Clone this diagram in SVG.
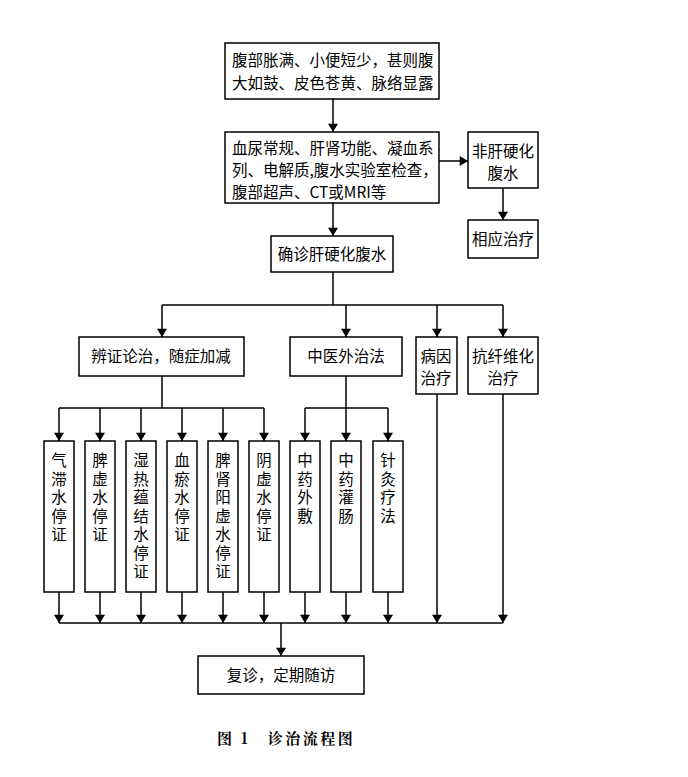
<svg xmlns="http://www.w3.org/2000/svg" width="688" height="777" viewBox="0 0 688 777">
<style>
rect{fill:#fff;stroke:#000;stroke-width:1.5}
text{font-family:"Noto Sans CJK SC","Liberation Sans",sans-serif;font-size:15.5px;fill:#000}
.c{text-anchor:middle}
.l{stroke:#000;stroke-width:1.5;fill:none}
</style>
<defs><marker id="a" viewBox="0 0 10 12" refX="10" refY="6" markerWidth="12" markerHeight="10" markerUnits="userSpaceOnUse" orient="auto"><path d="M0,0L10,6L0,12z" fill="#000"/></marker></defs>
<rect width="688" height="777" style="fill:#fff;stroke:none"/>
<g id="connectors" class="l">
<path d="M333,272V305"/>
<path d="M162,305H503"/>
<path d="M162,376V408"/>
<path d="M59,408H264"/>
<path d="M305,408H388"/>
<path d="M59,623H503"/>
<g marker-end="url(#a)">
<path d="M333,99V132"/><path d="M439,161H468"/><path d="M503,188V220"/><path d="M333,203V236"/>
<path d="M162,305V337"/><path d="M346,305V337"/><path d="M437,305V337"/><path d="M503,305V337"/>
<path d="M59,408V441"/><path d="M100,408V441"/><path d="M141,408V441"/><path d="M182,408V441"/><path d="M223,408V441"/><path d="M264,408V441"/>
<path d="M346,376V441"/><path d="M305,408V441"/><path d="M388,408V441"/>
<path d="M59,592V623"/><path d="M100,592V623"/><path d="M141,592V623"/><path d="M182,592V623"/><path d="M223,592V623"/><path d="M264,592V623"/><path d="M305,592V623"/><path d="M346,592V623"/><path d="M388,592V623"/><path d="M437,394V623"/><path d="M503,394V623"/>
<path d="M281,623V656"/></g>
</g>
<g id="n1"><rect x="225" y="43" width="214" height="56"/><text x="232" y="66">腹部胀满、小便短少，甚则腹</text><text x="232" y="89">大如鼓、皮色苍黄、脉络显露</text></g>
<g id="n2"><rect x="225" y="132" width="214" height="71"/><text x="232" y="154">血尿常规、肝肾功能、凝血系</text><text x="232" y="176">列、电解质,腹水实验室检查，</text><text x="232" y="198">腹部超声、CT或MRI等</text></g>
<g id="n3"><rect x="468" y="132" width="70" height="56"/><text class="c" x="503" y="157">非肝硬化</text><text class="c" x="503" y="179">腹水</text></g>
<g id="n4"><rect x="468" y="220" width="70" height="38"/><text class="c" x="503" y="245">相应治疗</text></g>
<g id="n5"><rect x="271" y="236" width="122" height="36"/><text class="c" x="332" y="260">确诊肝硬化腹水</text></g>
<g id="n6"><rect x="79" y="337" width="165" height="39"/><text class="c" x="161" y="362">辨证论治，随症加减</text></g>
<g id="n7"><rect x="290" y="337" width="112" height="39"/><text class="c" x="346" y="362">中医外治法</text></g>
<g id="n8"><rect x="416" y="337" width="41" height="57"/><text class="c" x="436" y="362">病因</text><text class="c" x="436" y="384">治疗</text></g>
<g id="n9"><rect x="468" y="337" width="70" height="57"/><text class="c" x="503" y="362">抗纤维化</text><text class="c" x="503" y="384">治疗</text></g>
<g id="v1"><rect x="44" y="441" width="30" height="151"/><text class="c" x="59" y="466"><tspan x="59">气</tspan><tspan x="59" dy="18.5">滞</tspan><tspan x="59" dy="18.5">水</tspan><tspan x="59" dy="18.5">停</tspan><tspan x="59" dy="18.5">证</tspan></text></g>
<g id="v2"><rect x="85" y="441" width="30" height="151"/><text class="c" x="100" y="466"><tspan x="100">脾</tspan><tspan x="100" dy="18.5">虚</tspan><tspan x="100" dy="18.5">水</tspan><tspan x="100" dy="18.5">停</tspan><tspan x="100" dy="18.5">证</tspan></text></g>
<g id="v3"><rect x="126" y="441" width="30" height="151"/><text class="c" x="141" y="466"><tspan x="141">湿</tspan><tspan x="141" dy="18.5">热</tspan><tspan x="141" dy="18.5">蕴</tspan><tspan x="141" dy="18.5">结</tspan><tspan x="141" dy="18.5">水</tspan><tspan x="141" dy="18.5">停</tspan><tspan x="141" dy="18.5">证</tspan></text></g>
<g id="v4"><rect x="167" y="441" width="30" height="151"/><text class="c" x="182" y="466"><tspan x="182">血</tspan><tspan x="182" dy="18.5">瘀</tspan><tspan x="182" dy="18.5">水</tspan><tspan x="182" dy="18.5">停</tspan><tspan x="182" dy="18.5">证</tspan></text></g>
<g id="v5"><rect x="208" y="441" width="30" height="151"/><text class="c" x="223" y="466"><tspan x="223">脾</tspan><tspan x="223" dy="18.5">肾</tspan><tspan x="223" dy="18.5">阳</tspan><tspan x="223" dy="18.5">虚</tspan><tspan x="223" dy="18.5">水</tspan><tspan x="223" dy="18.5">停</tspan><tspan x="223" dy="18.5">证</tspan></text></g>
<g id="v6"><rect x="249" y="441" width="30" height="151"/><text class="c" x="264" y="466"><tspan x="264">阴</tspan><tspan x="264" dy="18.5">虚</tspan><tspan x="264" dy="18.5">水</tspan><tspan x="264" dy="18.5">停</tspan><tspan x="264" dy="18.5">证</tspan></text></g>
<g id="v7"><rect x="290" y="441" width="30" height="151"/><text class="c" x="305" y="466"><tspan x="305">中</tspan><tspan x="305" dy="18.5">药</tspan><tspan x="305" dy="18.5">外</tspan><tspan x="305" dy="18.5">敷</tspan></text></g>
<g id="v8"><rect x="331" y="441" width="30" height="151"/><text class="c" x="346" y="466"><tspan x="346">中</tspan><tspan x="346" dy="18.5">药</tspan><tspan x="346" dy="18.5">灌</tspan><tspan x="346" dy="18.5">肠</tspan></text></g>
<g id="v9"><rect x="373" y="441" width="30" height="151"/><text class="c" x="388" y="466"><tspan x="388">针</tspan><tspan x="388" dy="18.5">灸</tspan><tspan x="388" dy="18.5">疗</tspan><tspan x="388" dy="18.5">法</tspan></text></g>
<g id="n10"><rect x="198" y="656" width="166" height="38"/><text class="c" x="281" y="681">复诊，定期随访</text></g>
<text x="217" y="744" style="font-family:'Noto Serif CJK SC','Noto Sans CJK SC',serif;font-weight:bold;font-size:15px;letter-spacing:2.5px">图 1　诊治流程图</text>
</svg>
